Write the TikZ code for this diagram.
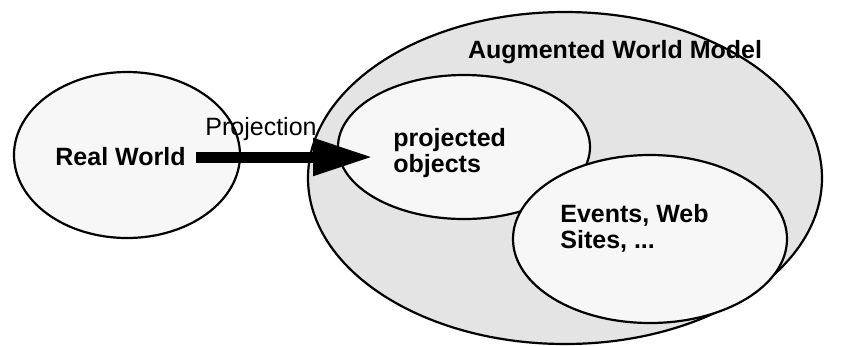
\documentclass[tikz,border=0pt]{standalone}
\usepackage{fontspec}
\setmainfont{Liberation Sans}
\usepackage{xcolor}
\usepackage{tikz}
\usetikzlibrary{positioning,shapes.geometric,arrows.meta}
\definecolor{outergray}{RGB}{228,228,228}
\definecolor{innergray}{RGB}{247,247,247}
\tikzset{
  world/.style={ellipse, draw=black, line width=1.1pt, inner sep=0pt},
  inner/.style={world, fill=innergray},
  tag/.style={inner sep=0pt, align=left, font=\fontsize{12.5}{13}\selectfont\bfseries},
  plain/.style={inner sep=0pt, font=\fontsize{12.5}{13}\selectfont},
  arrow/.style={line width=5.5pt, -{Triangle[length=30pt, width=17.5pt]}}
}
\begin{document}
\begin{tikzpicture}[x=0.5pt, y=-0.5pt]
  \useasboundingbox (0,0) rectangle (852,345);
  % Nodes
  \node (awm) [world, fill=outergray, minimum width=257pt, minimum height=166pt] at (565,178) {};
  \node (rw) [inner, minimum width=113pt, minimum height=83pt] at (127,155) {};
  \node (po) [inner, minimum width=126pt, minimum height=72pt] at (464,147) {};
  \node (ev) [inner, minimum width=137pt, minimum height=84pt] at (650,239) {};

  % Labels
  \node (awmlabel) [tag, anchor=base] at (615,58) {Augmented World Model};
  \node (rwlabel) [tag, anchor=west] at (55,157) {Real World};
  \node (polabel) [tag, anchor=west] at (393,153) {projected\\objects};
  \node (evlabel) [tag, anchor=west] at (560,228) {Events, Web\\Sites, ...};

  % Arrows
  \draw [arrow, shorten <=5pt, shorten >=10pt] (rwlabel.east) -- (rwlabel.east -| polabel.west);
  \node (proj) [plain, anchor=base west] at (205,135) {Projection};
\end{tikzpicture}
\end{document}
